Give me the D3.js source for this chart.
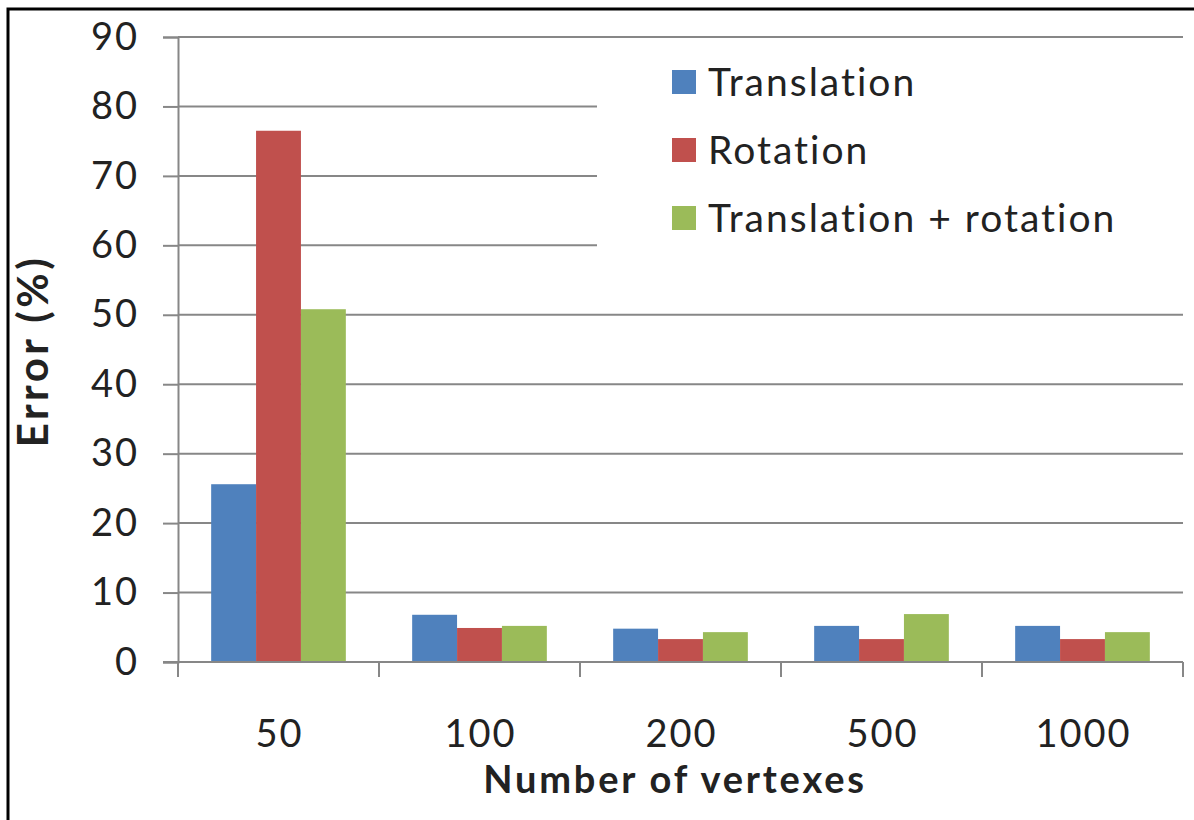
<!DOCTYPE html>
<html>
<head>
<meta charset="utf-8">
<script src="https://cdn.jsdelivr.net/npm/d3@7.9.0/dist/d3.min.js"></script>
<style>
  html, body { margin: 0; padding: 0; background: #fff; }
  svg { display: block; font-family: Lato, "Open Sans", sans-serif; }
</style>
</head>
<body>
<svg id="chart" width="1194" height="820"></svg>
<script>
const categories = ['50', '100', '200', '500', '1000'];
const seriesNames = ['Translation', 'Rotation', 'Translation + rotation'];
const translation = [25.6, 6.8, 4.8, 5.2, 5.2];
const rotation = [76.5, 4.9, 3.3, 3.3, 3.3];
const transRot = [50.8, 5.2, 4.3, 6.9, 4.3];
const yTicks = [0, 10, 20, 30, 40, 50, 60, 70, 80, 90];

const colors = ['#4f81bd', '#c0504d', '#9bbb59'];
const series = [translation, rotation, transRot];

const svg = d3.select('#chart');
const plotLeft = 178, plotRight = 1183, plotTop = 37, plotBottom = 662;

// outer frame (only top and left edges are inside the picture)
svg.append('rect')
  .attr('x', 8).attr('y', 9)
  .attr('width', 1200).attr('height', 820)
  .attr('fill', 'none').attr('stroke', '#000').attr('stroke-width', 3);

const x = d3.scaleBand()
  .domain(categories)
  .range([plotLeft, plotRight])
  .paddingInner(0.33)
  .paddingOuter(0.165);

const xs = d3.scaleBand()
  .domain(d3.range(series.length))
  .range([0, x.bandwidth()]);

const y = d3.scaleLinear().domain([0, 90]).range([plotBottom, plotTop]);

// gridlines
svg.append('g')
  .selectAll('line')
  .data(yTicks.filter(d => d > 0))
  .join('line')
  .attr('x1', plotLeft).attr('x2', plotRight)
  .attr('y1', d => y(d)).attr('y2', d => y(d))
  .attr('stroke', '#878787').attr('stroke-width', 2);

// bars
const rows = categories.map((c, i) => ({ cat: c, vals: series.map(s => s[i]) }));
svg.append('g')
  .selectAll('g')
  .data(rows)
  .join('g')
  .attr('transform', d => `translate(${x(d.cat)},0)`)
  .selectAll('rect')
  .data(d => d.vals)
  .join('rect')
  .attr('x', (_, i) => xs(i))
  .attr('width', xs.bandwidth())
  .attr('y', d => y(d))
  .attr('height', d => y(0) - y(d))
  .attr('fill', (_, i) => colors[i]);

// y axis
const yAxis = svg.append('g')
  .attr('transform', `translate(${plotLeft},0)`)
  .call(d3.axisLeft(y).tickValues(yTicks).tickSize(15).tickPadding(24));
yAxis.select('.domain').attr('stroke', '#878787').attr('stroke-width', 2);
yAxis.selectAll('.tick line').attr('stroke', '#878787').attr('stroke-width', 2);
yAxis.selectAll('.tick text')
  .attr('font-size', 38).attr('fill', '#222')
  .attr('letter-spacing', 2)
  .attr('font-family', 'Lato, sans-serif');

// x axis: line plus ticks at category boundaries
const xAxis = svg.append('g');
xAxis.append('line')
  .attr('x1', plotLeft - 15).attr('x2', plotRight)
  .attr('y1', plotBottom).attr('y2', plotBottom)
  .attr('stroke', '#878787').attr('stroke-width', 2);
const bounds = categories.map(c => x(c) - x.step() * x.paddingInner() / 2);
bounds.push(plotRight);
xAxis.selectAll('line.tk')
  .data(bounds)
  .join('line')
  .attr('class', 'tk')
  .attr('x1', d => d).attr('x2', d => d)
  .attr('y1', plotBottom).attr('y2', plotBottom + 15)
  .attr('stroke', '#878787').attr('stroke-width', 2);
xAxis.selectAll('text')
  .data(categories)
  .join('text')
  .attr('x', d => x(d) + x.bandwidth() / 2 + 1)
  .attr('y', 747)
  .attr('text-anchor', 'middle')
  .attr('font-size', 38).attr('letter-spacing', 2).attr('fill', '#222')
  .text(d => d);

// axis titles
svg.append('text')
  .attr('x', 675).attr('y', 793)
  .attr('text-anchor', 'middle')
  .attr('font-size', 38).attr('letter-spacing', 2.8)
  .attr('font-weight', 'bold').attr('fill', '#222')
  .text('Number of vertexes');

svg.append('text')
  .attr('transform', 'translate(48,351) rotate(-90)')
  .attr('text-anchor', 'middle')
  .attr('font-size', 42).attr('letter-spacing', 3.5)
  .attr('font-weight', 'bold').attr('fill', '#222')
  .text('Error (%)');

// legend
const legend = svg.append('g');
legend.append('rect')
  .attr('x', 597).attr('y', 48)
  .attr('width', plotRight - 597 + 2).attr('height', 210)
  .attr('fill', '#fff');
const item = legend.selectAll('g.item')
  .data(seriesNames)
  .join('g')
  .attr('class', 'item')
  .attr('transform', (_, i) => `translate(672,${82 + i * 68})`);
item.append('rect')
  .attr('x', 0).attr('y', -12)
  .attr('width', 24).attr('height', 24)
  .attr('fill', (_, i) => colors[i]);
item.append('text')
  .attr('x', 36).attr('y', 0).attr('dy', '0.35em')
  .attr('font-size', 39).attr('letter-spacing', 2).attr('fill', '#222')
  .text(d => d);
</script>
</body>
</html>
